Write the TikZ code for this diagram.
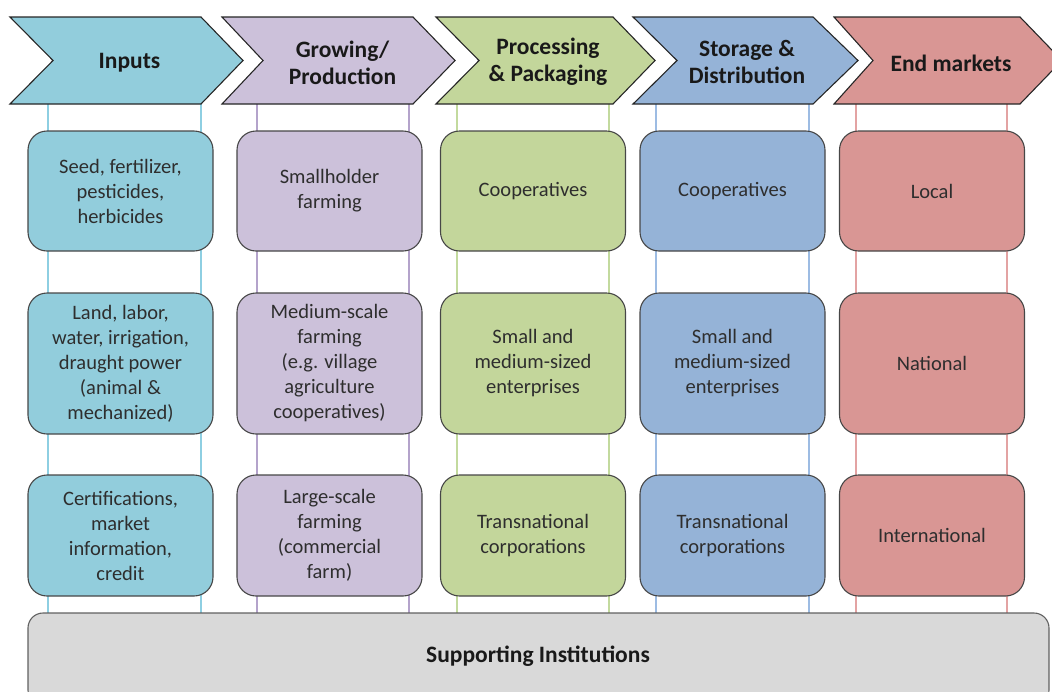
\documentclass[tikz,border=0pt]{standalone}
\usepackage{fontspec}
\setmainfont{Carlito}
\definecolor{inF}{HTML}{92CDDC}
\definecolor{inL}{HTML}{8ECFE2}
\definecolor{grF}{HTML}{CCC1DA}
\definecolor{grL}{HTML}{B4A3CB}
\definecolor{prF}{HTML}{C3D69B}
\definecolor{prL}{HTML}{C3DA9E}
\definecolor{stF}{HTML}{95B3D7}
\definecolor{stL}{HTML}{9DBCE3}
\definecolor{enF}{HTML}{D99694}
\definecolor{enL}{HTML}{E3A3A3}
\definecolor{suF}{HTML}{D9D9D9}
\begin{document}
\begin{tikzpicture}[x=1pt,y=-1pt,
  chev/.style={draw=black!85, line width=1.1pt, line join=miter},
  hdr/.style={font=\fontsize{23.5}{27}\selectfont\bfseries, align=center, text=black!90, inner sep=0pt},
  cell/.style={draw=black!72, line width=1.1pt, rounded corners=19pt, minimum width=185pt, align=center, font=\fontsize{20.5}{25}\selectfont, text=black!82, inner sep=0pt},
  vline/.style={line width=1.6pt}]
\useasboundingbox (0,0) rectangle (1052,691);
\clip (0,0) rectangle (1052,691);
% vertical guide lines
\foreach \x/\c in {48/inL,201/inL,257/grL,409/grL,457/prL,609/prL,656/stL,809/stL,856/enL,1007/enL}{
  \coordinate (t\x) at (\x,104);
  \coordinate (b\x) at (\x,613);
  \draw[vline,draw=\c] (t\x) -- (b\x);
}
% chevrons
\newcommand\mychev[5]{\path[chev,fill=#5] (#1,17) -- (#3,17) -- (#4,60.5) -- (#3,104) -- (#1,104) -- (#2,60.5) -- cycle;}
\mychev{10}{53}{201}{243}{inF}
\mychev{222}{263}{413}{455}{grF}
\mychev{436}{479}{613}{655}{prF}
\mychev{633}{677}{813}{858}{stF}
\mychev{834}{873}{1020}{1062}{enF}
\node[hdr] (hin) at (129.5,63) {Inputs};
\node[hdr] (hgr) at (342.5,63) {Growing/\\Production};
\node[hdr] (hpr) at (548,62) {Processing\\\& Packaging};
\node[hdr] (hst) at (747,62) {Storage \&\\Distribution};
\node[hdr] (hen) at (951,63) {End markets};
% cells
\node[cell,fill=inF,minimum height=120pt] (in1) at (120.5,191) {Seed, fertilizer,\\pesticides,\\herbicides};
\node[cell,fill=inF,minimum height=141pt] (in2) at (120.5,363.5) {Land, labor,\\water, irrigation,\\draught power\\(animal \&\\mechanized)};
\node[cell,fill=inF,minimum height=121pt] (in3) at (120.5,535.5) {Certifications,\\market\\information,\\credit};
\node[cell,fill=grF,minimum height=120pt] (gr1) at (329.5,191) {Smallholder\\farming};
\node[cell,fill=grF,minimum height=141pt] (gr2) at (329.5,363.5) {Medium-scale\\farming\\(e.g. village\\agriculture\\cooperatives)};
\node[cell,fill=grF,minimum height=121pt] (gr3) at (329.5,535.5) {Large-scale\\farming\\(commercial\\farm)};
\node[cell,fill=prF,minimum height=120pt] (pr1) at (533,191) {Cooperatives};
\node[cell,fill=prF,minimum height=141pt] (pr2) at (533,363.5) {Small and\\medium-sized\\enterprises};
\node[cell,fill=prF,minimum height=121pt] (pr3) at (533,535.5) {Transnational\\corporations};
\node[cell,fill=stF,minimum height=120pt] (st1) at (732.5,191) {Cooperatives};
\node[cell,fill=stF,minimum height=141pt] (st2) at (732.5,363.5) {Small and\\medium-sized\\enterprises};
\node[cell,fill=stF,minimum height=121pt] (st3) at (732.5,535.5) {Transnational\\corporations};
\node[cell,fill=enF,minimum height=120pt] (en1) at (932,191) {Local};
\node[cell,fill=enF,minimum height=141pt] (en2) at (932,363.5) {National};
\node[cell,fill=enF,minimum height=121pt] (en3) at (932,535.5) {International};
% supporting institutions
\node[draw=black!62, line width=1.1pt, fill=suF, rounded corners=15pt, minimum width=1021pt, minimum height=92pt, inner sep=0pt] (sup) at (538.5,659) {};
\node[font=\fontsize{23.5}{27}\selectfont\bfseries, text=black!90] (suptxt) at (538,656) {Supporting Institutions};
\end{tikzpicture}
\end{document}
